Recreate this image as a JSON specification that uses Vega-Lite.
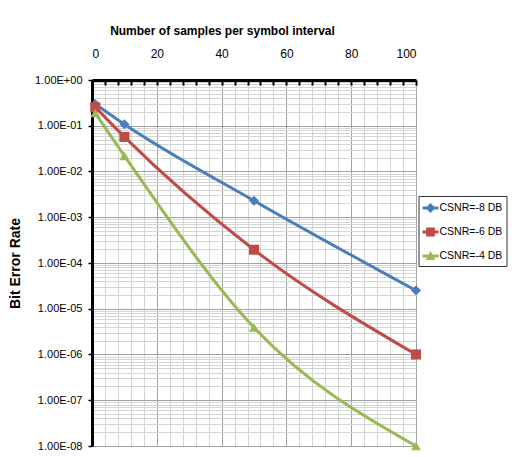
{
  "$schema": "https://vega.github.io/schema/vega-lite/v6.json",
  "autosize": {"type": "none"},
  "padding": {"left": 92, "top": 80, "right": 113, "bottom": 11},
  "width": 324,
  "height": 366,
  "background": "white",
  "data": {"values": [
    {"samples": 1, "ber": 0.3, "series": "CSNR=-8 DB"},
    {"samples": 10, "ber": 0.108, "series": "CSNR=-8 DB"},
    {"samples": 50, "ber": 0.0023, "series": "CSNR=-8 DB"},
    {"samples": 100, "ber": 0.000025, "series": "CSNR=-8 DB"},
    {"samples": 1, "ber": 0.255, "series": "CSNR=-6 DB"},
    {"samples": 10, "ber": 0.057, "series": "CSNR=-6 DB"},
    {"samples": 50, "ber": 0.000195, "series": "CSNR=-6 DB"},
    {"samples": 100, "ber": 0.000001, "series": "CSNR=-6 DB"},
    {"samples": 1, "ber": 0.19, "series": "CSNR=-4 DB"},
    {"samples": 10, "ber": 0.022, "series": "CSNR=-4 DB"},
    {"samples": 50, "ber": 0.0000039, "series": "CSNR=-4 DB"},
    {"samples": 100, "ber": 0.00000001, "series": "CSNR=-4 DB"}
  ]},
  "layer": [
    {
      "mark": {"type": "line", "interpolate": "monotone", "strokeWidth": 3},
      "encoding": {
        "x": {"field": "samples", "type": "quantitative",
          "scale": {"domain": [0, 100], "nice": false, "zero": true},
          "axis": {"orient": "top", "values": [4,8,12,16,24,28,32,36,44,48,52,56,64,68,72,76,84,88,92,96],
            "grid": true, "gridColor": "#d4d4d4", "gridWidth": 1, "labels": false, "domain": false,
            "ticks": true, "tickColor": "#000000", "tickSize": -5, "tickWidth": 2, "title": null}},
        "y": {"field": "ber", "type": "quantitative",
          "scale": {"type": "log", "domain": [1e-8, 1], "nice": false},
          "axis": {"orient": "left", "values": [2e-8,3e-8,4e-8,5e-8,6e-8,7e-8,8e-8,9e-8,2e-7,3e-7,4e-7,5e-7,6e-7,7e-7,8e-7,9e-7,2e-6,3e-6,4e-6,5e-6,6e-6,7e-6,8e-6,9e-6,2e-5,3e-5,4e-5,5e-5,6e-5,7e-5,8e-5,9e-5,2e-4,3e-4,4e-4,5e-4,6e-4,7e-4,8e-4,9e-4,2e-3,3e-3,4e-3,5e-3,6e-3,7e-3,8e-3,9e-3,2e-2,3e-2,4e-2,5e-2,6e-2,7e-2,8e-2,9e-2,2e-1,3e-1,4e-1,5e-1,6e-1,7e-1,8e-1,9e-1],
            "grid": true, "gridColor": "#d4d4d4", "gridWidth": 1, "labels": false, "domain": false,
            "ticks": false, "title": null}},
        "color": {"field": "series", "type": "nominal",
          "scale": {"domain": ["CSNR=-8 DB", "CSNR=-6 DB", "CSNR=-4 DB"], "range": ["#4a7ebb", "#be4b48", "#98b954"]},
          "legend": {"title": null, "orient": "none", "legendX": 326.5, "legendY": 116,
            "padding": 4, "strokeColor": "#333333", "fillColor": "white",
            "symbolSize": 256, "symbolStrokeWidth": 0, "rowPadding": 10, "labelOffset": 1,
            "labelFont": "Liberation Sans", "labelFontSize": 10.5, "labelColor": "#000000",
            "labelLimit": 200,
            "encode": {"symbols": {"update": {
              "shape": {"signal": "datum.value === 'CSNR=-8 DB' ? 'M-1,-0.18H1V0.18H-1Z M0,-0.62L0.62,0L0,0.62L-0.62,0Z' : datum.value === 'CSNR=-6 DB' ? 'M-1,-0.18H1V0.18H-1Z M-0.55,-0.55H0.55V0.55H-0.55Z' : 'M-1,-0.18H1V0.18H-1Z M0,-0.62L0.6,0.5L-0.6,0.5Z'"},
              "fill": {"signal": "scale('color', datum.value)"},
              "stroke": {"value": "transparent"}
            }}}
          }}
      }
    },
    {
      "transform": [{"filter": {"field": "series", "equal": "CSNR=-8 DB"}}],
      "mark": {"type": "point", "filled": true, "opacity": 1, "size": 100, "shape": "diamond", "color": "#4a7ebb"},
      "encoding": {
        "x": {"field": "samples", "type": "quantitative",
          "axis": {"orient": "top", "values": [0, 20, 40, 60, 80, 100],
            "grid": true, "gridColor": "#a0a0a0", "gridWidth": 1,
            "domain": true, "domainColor": "#000000", "domainWidth": 3,
            "ticks": true, "tickColor": "#000000", "tickSize": -5, "tickWidth": 2,
            "labelFont": "Liberation Sans", "labelFontSize": 12, "labelColor": "#000000", "labelPadding": 25,
            "title": "Number of samples per symbol interval",
            "titleFont": "Liberation Sans", "titleFontSize": 12, "titleFontWeight": "bold", "titleColor": "#000000",
            "titleX": 130, "titleY": -46, "titleAlign": "center", "titleBaseline": "alphabetic"}},
        "y": {"field": "ber", "type": "quantitative",
          "axis": {"orient": "left", "values": [1e-8, 1e-7, 1e-6, 1e-5, 1e-4, 1e-3, 1e-2, 1e-1, 1],
            "labelExpr": "'1.00E' + (datum.value < 1 ? '-' : '+') + (abs(round(log(datum.value)/LN10)) < 10 ? '0' : '') + abs(round(log(datum.value)/LN10))",
            "grid": true, "gridColor": "#a0a0a0", "gridWidth": 1,
            "domain": true, "domainColor": "#000000", "domainWidth": 3,
            "ticks": true, "tickColor": "#000000", "tickSize": 4, "tickWidth": 1.5,
            "labelFont": "Liberation Sans", "labelFontSize": 11, "labelColor": "#000000", "labelPadding": 6,
            "title": "Bit Error Rate",
            "titleFont": "Liberation Sans", "titleFontSize": 14, "titleFontWeight": "bold", "titleColor": "#000000",
            "titleX": -77, "titleY": 183, "titleAngle": -90, "titleAlign": "center", "titleBaseline": "middle"}}
      }
    },
    {
      "transform": [{"filter": {"field": "series", "equal": "CSNR=-6 DB"}}],
      "mark": {"type": "point", "filled": true, "opacity": 1, "size": 100, "shape": "square", "color": "#be4b48"},
      "encoding": {
        "x": {"field": "samples", "type": "quantitative", "axis": null},
        "y": {"field": "ber", "type": "quantitative", "axis": null}
      }
    },
    {
      "transform": [{"filter": {"field": "series", "equal": "CSNR=-4 DB"}}],
      "mark": {"type": "point", "filled": true, "opacity": 1, "size": 100, "shape": "triangle-up", "color": "#98b954"},
      "encoding": {
        "x": {"field": "samples", "type": "quantitative", "axis": null},
        "y": {"field": "ber", "type": "quantitative", "axis": null}
      }
    }
  ],
  "resolve": {"axis": {"x": "independent", "y": "independent"}},
  "config": {"view": {"stroke": null}}
}
